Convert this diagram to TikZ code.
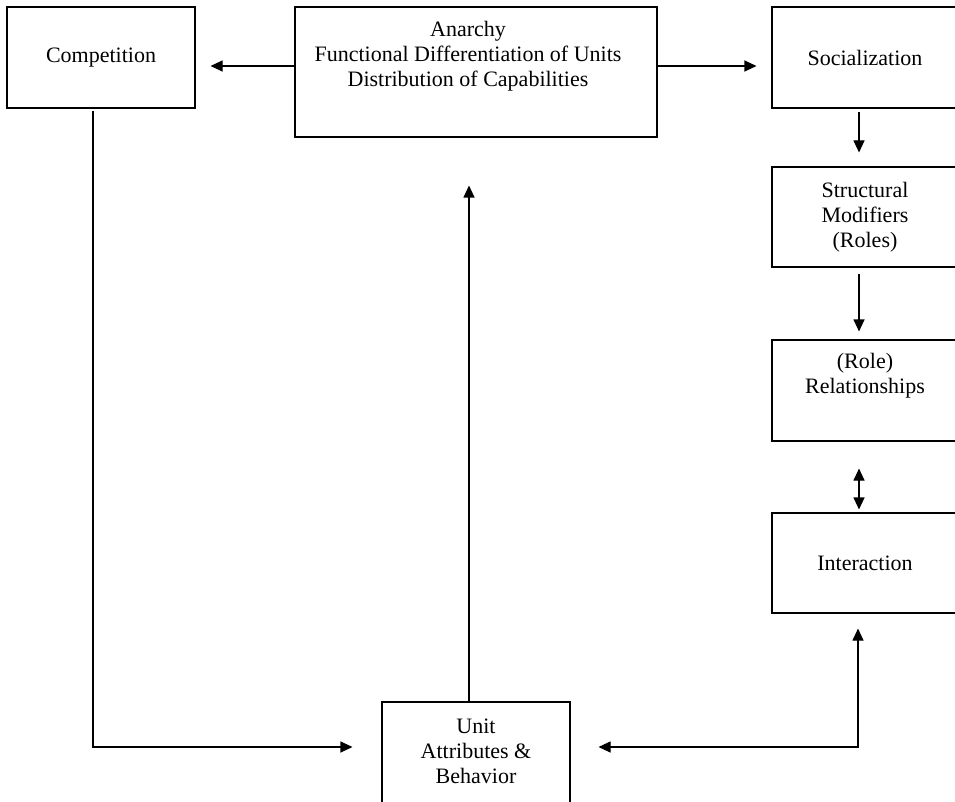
\documentclass[tikz,border=0pt]{standalone}
\usepackage{fontspec}
\setmainfont{Liberation Serif}
\usepackage{tikz}
\usetikzlibrary{arrows.meta}

\tikzset{
    box/.style={draw, line width=1.1pt, inner sep=0pt},
    txt/.style={align=center, font=\fontsize{22}{25}\selectfont},
    arr/.style={line width=1.1pt, -{Triangle[length=12pt, width=11pt]}},
    dblarr/.style={line width=1.1pt, {Triangle[length=12pt, width=11pt]}-{Triangle[length=12pt, width=11pt]}}
}

\begin{document}
\begin{tikzpicture}[x=1pt, y=-1pt]
        \useasboundingbox (0, 0) rectangle (955, 802);
        % boxes
        \node[box, txt, minimum width=188pt, minimum height=101pt] (comp) at (101, 57.5) {Competition};
        \node[box, minimum width=362pt, minimum height=130pt] (anarchy) at (476, 72) {};
        \node[txt] (anarchytxt) at (468, 56) {Anarchy\\Functional Differentiation of Units\\Distribution of Capabilities};
        \node[box, txt, minimum width=186pt, minimum height=101pt] (soc) at (865, 57.5) {Socialization};
        \node[box, txt, minimum width=186pt, minimum height=100pt] (struct) at (865, 217) {Structural\\Modifiers\\(Roles)};
        \node[box, minimum width=186pt, minimum height=101pt] (rel) at (865, 390.5) {};
        \node[txt] (reltxt) at (865, 376) {(Role)\\Relationships};
        \node[box, txt, minimum width=186pt, minimum height=100pt] (inter) at (865, 563) {Interaction};
        \node[box, minimum width=188pt, minimum height=130pt] (unit) at (476, 767) {};
        \node[txt] (unittxt) at (476, 751) {Unit\\Attributes \&\\Behavior};
        % connectors
        \coordinate (anw) at ([yshift=6pt]anarchy.west);
        \coordinate (ane) at ([yshift=6pt]anarchy.east);
        \coordinate (ljoin) at (93, 747);
        \coordinate (rjoin) at (858, 747);
        \draw[arr, shorten >=15pt] (anw) to (anw -| comp.east);
        \draw[arr, shorten >=15pt] (ane) to (ane -| soc.west);
        \draw[arr, shorten <=3pt, shorten >=14pt] ([xshift=-6pt]soc.south) to ([xshift=-6pt]struct.north);
        \draw[arr, shorten <=6pt, shorten >=8pt] ([xshift=-6pt]struct.south) to ([xshift=-6pt]rel.north);
        \draw[dblarr, shorten <=27pt, shorten >=3pt] ([xshift=-6pt]rel.south) to ([xshift=-6pt]inter.north);
        \draw[dblarr, shorten <=28pt, shorten >=15pt] (rjoin -| unit.east) -- (rjoin) -- (rjoin |- inter.south);
        \draw[arr, shorten <=2pt, shorten >=29pt] (ljoin |- comp.south) -- (ljoin) -- (ljoin -| unit.west);
        \draw[arr, shorten >=48pt] ([xshift=-7pt]unit.north) to ([xshift=-7pt]unit.north |- anarchy.south);
    \end{tikzpicture}
\end{document}
